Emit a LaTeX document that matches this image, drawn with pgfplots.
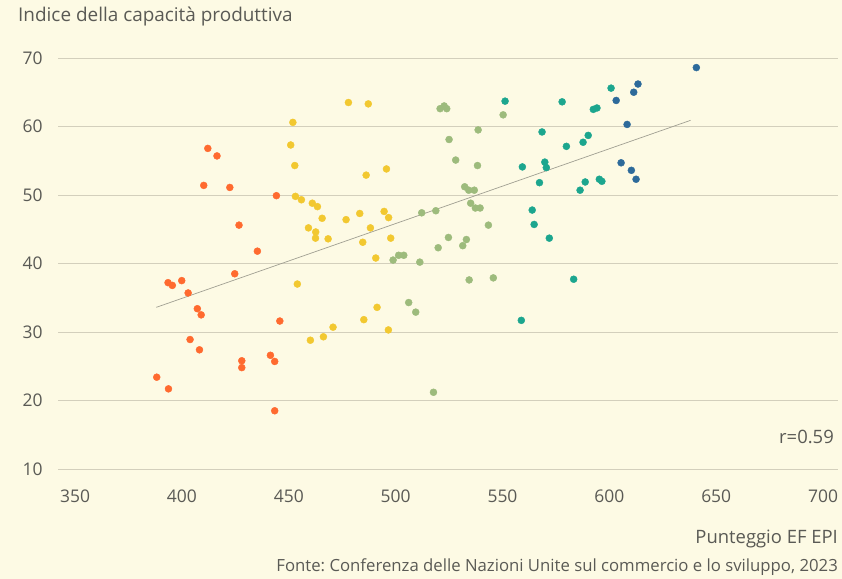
\documentclass[border=0pt]{standalone}
\usepackage{pgfplots}
\pgfplotsset{compat=1.18}
\usepackage{fontspec}
\setmainfont{Open Sans}
\frenchspacing

\definecolor{bg}{HTML}{FDFAE4}
\definecolor{txt}{HTML}{5A5A55}
\definecolor{gridc}{HTML}{D3CFBC}
\definecolor{trend}{HTML}{A09F92}
\definecolor{cOrange}{HTML}{FF6A2F}
\definecolor{cYellow}{HTML}{F2C830}
\definecolor{cGreen}{HTML}{9DBB7C}
\definecolor{cTeal}{HTML}{1CA68E}
\definecolor{cBlue}{HTML}{2D6A9A}

\pgfplotsset{dots/.style={only marks, mark=*, mark size=3.5bp, color=#1}}

\begin{document}
\begin{tikzpicture}[x=1bp,y=1bp]
\fill[bg] (0,0) rectangle (842,579);
\begin{axis}[
  at={(58bp,110bp)}, anchor=south west,
  scale only axis, width=780bp, height=411bp,
  xmin=342, xmax=707, ymin=10, ymax=70,
  xtick={350,400,...,700}, ytick={10,20,...,70},
  axis line style={draw=none}, tick style={draw=none},
  ymajorgrids, grid style={gridc, line width=0.9bp},
  ticklabel style={font=\fontsize{17.5}{20}\selectfont, text=txt},
  /pgf/number format/assume math mode=true,
  /pgf/number format/1000 sep={},
  yticklabel style={anchor=east, xshift=-12bp},
  xticklabel style={yshift=-17bp},
  clip=false,
]
\addplot[trend, line width=0.7bp] coordinates {(388,33.6)(638,60.9)};

% Orange
\addplot[dots=cOrange] coordinates {
(412.1,56.8)(416.4,55.7)(410.2,51.4)(422.4,51.1)(444.2,49.9)(426.7,45.6)
(435.3,41.8)(424.7,38.5)(393.5,37.2)(395.5,36.8)(399.9,37.5)(402.9,35.7)
(407.2,33.4)(409.0,32.5)(445.8,31.6)(403.8,28.9)(408.2,27.4)(428.0,25.8)
(428.0,24.8)(441.4,26.6)(443.4,25.7)(388.2,23.4)(393.7,21.7)(443.4,18.5)};

% Yellow
\addplot[dots=cYellow] coordinates {
(450.9,57.3)(452.8,54.3)(453.1,49.8)(455.9,49.3)(461.0,48.8)(463.4,48.3)
(465.6,46.6)(459.2,45.2)(462.6,44.6)(462.5,43.7)(468.4,43.6)(454.0,37.0)
(460.1,28.8)(466.2,29.3)(477.9,63.5)(487.2,63.3)(451.9,60.6)(486.2,52.9)
(495.7,53.8)(494.6,47.6)(496.7,46.7)(483.2,47.3)(476.8,46.4)(488.2,45.2)
(484.6,43.1)(497.7,43.7)(490.7,40.8)(491.3,33.6)(485.1,31.8)(470.7,30.7)
(496.6,30.3)};

% Green
\addplot[dots=cGreen] coordinates {
(512.2,47.4)(511.3,40.2)(498.8,40.5)(501.4,41.2)(503.8,41.2)(506.1,34.3)
(509.4,32.9)(520.8,62.6)(522.7,63.0)(523.9,62.6)(550.3,61.7)(538.6,59.5)
(525.0,58.1)(528.1,55.1)(538.3,54.3)(532.3,51.2)(534.2,50.7)(536.8,50.7)
(535.1,48.8)(537.3,48.1)(539.5,48.1)(518.8,47.7)(543.4,45.6)(524.7,43.8)
(533.1,43.5)(519.9,42.3)(531.4,42.6)(534.4,37.6)(545.7,37.9)(517.7,21.2)};

% Teal
\addplot[dots=cTeal] coordinates {
(551.2,63.7)(568.5,59.2)(559.3,54.1)(569.8,54.8)(570.5,54.0)(567.3,51.8)
(563.9,47.8)(564.8,45.7)(571.9,43.7)(558.8,31.7)(577.9,63.6)(600.8,65.6)
(592.5,62.5)(594.2,62.7)(590.1,58.7)(587.7,57.7)(579.9,57.1)(588.7,51.9)
(586.3,50.7)(595.3,52.3)(596.5,52.0)(583.3,37.7)};

% Blue
\addplot[dots=cBlue] coordinates {
(640.7,68.6)(613.4,66.2)(611.4,65.0)(603.2,63.8)(608.3,60.3)(605.5,54.7)
(610.3,53.6)(612.5,52.3)};
\end{axis}

\node[anchor=west, text=txt, font=\fontsize{19}{22}\selectfont, inner sep=0] at (18,562) {Indice della capacità produttiva};
\node[anchor=east, text=txt, font=\fontsize{18.5}{21}\selectfont, inner sep=0] at (834,142) {r=0.59};
\node[anchor=east, text=txt, font=\fontsize{18.5}{21}\selectfont, inner sep=0] at (838,40) {Punteggio EF EPI};
\node[anchor=east, text=txt, font=\fontsize{16.8}{19}\selectfont, inner sep=0] at (838,12) {Fonte: Conferenza delle Nazioni Unite sul commercio e lo sviluppo, 2023};
\end{tikzpicture}
\end{document}
